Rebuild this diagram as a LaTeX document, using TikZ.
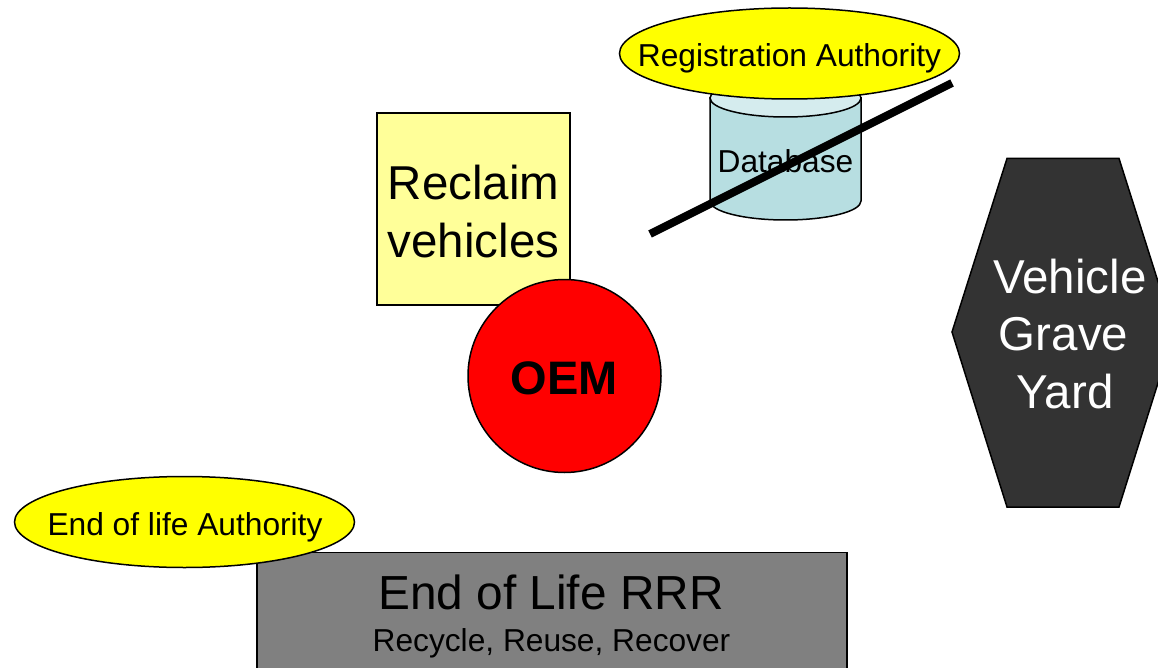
\documentclass[tikz,border=0pt]{standalone}
\usepackage{fontspec}
\setmainfont{Liberation Sans}
\definecolor{noteyellow}{HTML}{FFFF99}
\definecolor{authyellow}{HTML}{FFFF00}
\definecolor{dbbody}{HTML}{B7DEE1}
\definecolor{dblid}{HTML}{D5ECEE}
\definecolor{oemred}{HTML}{FF0000}
\definecolor{rrrgray}{HTML}{808080}
\definecolor{graveblack}{HTML}{333333}
\tikzset{
  outlined/.style={draw=black,line width=1.5pt},
  authority/.style={outlined,ellipse,fill=authyellow,inner sep=0pt,minimum width=340pt,minimum height=91pt},
  smalltext/.style={font=\fontsize{31.7}{38}\selectfont,inner sep=0pt,text=black},
  bigtext/.style={font=\fontsize{47.5}{57.5}\selectfont,inner sep=0pt,align=center}
}
\usetikzlibrary{shapes.geometric}
\begin{document}
\begin{tikzpicture}[x=1pt,y=-1pt]
\useasboundingbox (0,0) rectangle (1158,668);
\clip (0,0) rectangle (1158,668);
% Reclaim vehicles
\node[outlined,fill=noteyellow,minimum width=193pt,minimum height=192pt,inner sep=0pt] (reclaimbox) at (473.3,209) {};
\node[bigtext] (reclaim) at (473.5,211.5) {Reclaim\\vehicles};
% OEM
\node[outlined,circle,fill=oemred,minimum size=193pt,inner sep=0pt] (oem) at (564.5,376) {};
\node[font=\fontsize{47}{56}\selectfont\bfseries,inner sep=0pt,anchor=base] (oemtext) at (564.3,394) {OEM};
% Database cylinder
\draw[outlined,fill=dbbody] (710,98) -- (710,201) arc[start angle=180,end angle=0,x radius=75.5,y radius=19] -- (861,98) -- cycle;
\draw[outlined,fill=dblid] (785.5,98) ellipse[x radius=75.5,y radius=19];
\node[smalltext,anchor=base] (database) at (785.5,173) {Database};
% Registration authority
\node[authority] (regauth) at (789.5,53.5) {};
\node[smalltext,anchor=base] (regtext) at (789.5,67) {Registration Authority};
% Cross-out
\coordinate (crossa) at (650,234);
\coordinate (crossb) at (952,83);
\draw[line width=8pt] (crossa) -- (crossb);
% Grave yard
\draw[outlined,fill=graveblack] (1007,158.5) -- (1119,158.5) -- (1174,332) -- (1119,507) -- (1007,507) -- (952,332) -- cycle;
\node[bigtext,text=white] (grave) at (1070,334) {Vehicle\\Grave\rule{13pt}{0pt}\\Yard\rule{10pt}{0pt}};
% End of life RRR
\node[outlined,fill=rrrgray,anchor=north west,minimum width=590pt,minimum height=140pt,inner sep=0pt] (rrr) at (256,551.5) {};
\node[font=\fontsize{47.8}{57}\selectfont,inner sep=0pt,anchor=base] (rrrtitle) at (551,609.5) {End of Life RRR};
\node[smalltext,anchor=base] (rrrsub) at (551.5,651) {Recycle, Reuse, Recover};
% End of life authority
\node[authority] (eolauth) at (184.5,522) {};
\node[smalltext,anchor=base] (eoltext) at (185,535) {End of life Authority};
\end{tikzpicture}
\end{document}
